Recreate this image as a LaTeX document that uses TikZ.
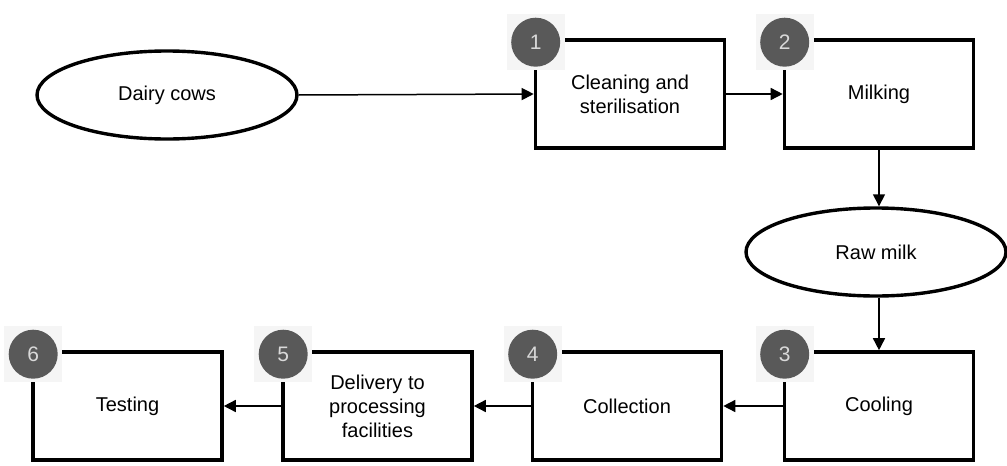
\documentclass[tikz,border=0pt]{standalone}
\usepackage{fontspec}
\setmainfont{Liberation Sans}
\usetikzlibrary{arrows.meta,shapes.geometric}
\tikzset{
  stepbox/.style={draw=black, line width=3.6pt, fill=white, minimum width=189pt, minimum height=108pt, align=center, font=\fontsize{20}{24}\selectfont, inner sep=0pt},
  source/.style={draw=black, line width=3.4pt, fill=white, ellipse, minimum width=260pt, minimum height=88pt, font=\fontsize{20}{24}\selectfont, inner sep=0pt},
  patch/.style={fill=black!4, draw=none, minimum width=58pt, minimum height=56pt, inner sep=0pt},
  badge/.style={circle, fill=black!65, draw=none, minimum size=49pt, inner sep=0pt, text=white!85!black, font=\fontsize{21}{21}\selectfont},
  flow/.style={line width=1.5pt, -{Triangle[length=12pt,width=12pt]}}
}
\begin{document}
\begin{tikzpicture}[x=1pt,y=-1pt]
\useasboundingbox (0,0) rectangle (1007,466);
% sources
\node[source] (cows) at (167,95) {Dairy cows};
\node[source] (raw) at (876,252) {Raw milk};
% process steps
\node[stepbox] (clean) at (630,94) {Cleaning and\\sterilisation};
\node[stepbox] (milk) at (879,94) {Milking};
\node[stepbox] (cool) at (879,406) {Cooling};
\node[stepbox] (coll) at (627,406) {Collection};
\node[stepbox] (deliv) at (377.5,406) {Delivery to\\processing\\facilities};
\node[stepbox] (test) at (127.5,406) {Testing};
% numbered badges over the top-left corners
\foreach \n/\b in {1/clean,2/milk,3/cool,4/coll,5/deliv,6/test}{
  \node[patch] (p\n) at ([xshift=2pt,yshift=-4pt]\b.north west) {};
  \node[badge] (n\n) at (p\n) {\n};
}
% flow
\draw[flow] (cows.east) -- (clean.west);
\draw[flow] (clean.east) -- (milk.west);
\draw[flow] (milk.south) -- (raw.north -| milk.south);
\draw[flow] (raw.south -| cool.north) -- (cool.north);
\draw[flow] (cool.west) -- (coll.east);
\draw[flow] (coll.west) -- (deliv.east);
\draw[flow] (deliv.west) -- (test.east);
\end{tikzpicture}
\end{document}
